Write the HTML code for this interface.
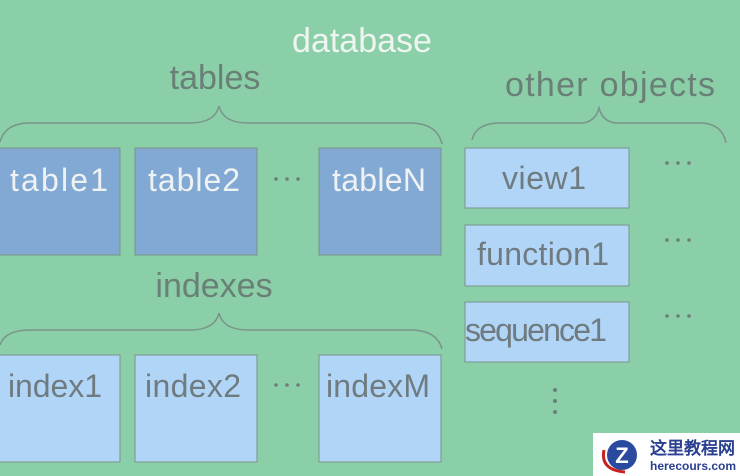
<!DOCTYPE html>
<html><head><meta charset="utf-8"><style>
html,body{margin:0;padding:0;width:740px;height:476px;overflow:hidden;background:#8bcfa9}
svg{display:block}
text{font-family:"Liberation Sans",sans-serif}
</style></head><body>
<svg width="740" height="476" viewBox="0 0 740 476" xmlns="http://www.w3.org/2000/svg">
<rect width="740" height="476" fill="#8bcfa9"/>
<text x="362" y="52" font-size="34" fill="#eef5f0" text-anchor="middle">database</text>
<text x="215" y="89" font-size="34" fill="#6a7f76" text-anchor="middle">tables</text>
<path d="M0,142 Q5,123 30,123 L190,123 Q215,123 219,106 Q223,123 248,123 L410,123 Q437,123 442,144" fill="none" stroke="#7a948a" stroke-width="1.5"/>
<g stroke="#7a948a" stroke-width="1">
<rect x="-1" y="148" width="121" height="107" fill="#82a9d3"/>
<rect x="135" y="148" width="122" height="107" fill="#82a9d3"/>
<rect x="319" y="148" width="122" height="107" fill="#82a9d3"/>
</g>
<g font-size="32" fill="#eef2f4">
<text x="10" y="191" textLength="98">table1</text>
<text x="148" y="191" textLength="92">table2</text>
<text x="332" y="191" textLength="94">tableN</text>
</g>
<g fill="#6a7f76"><circle cx="276" cy="179" r="1.8"/><circle cx="287" cy="179" r="1.8"/><circle cx="298" cy="179" r="1.8"/></g>
<text x="214" y="297" font-size="34" fill="#6a7f76" text-anchor="middle">indexes</text>
<path d="M0,345 Q5,330 30,330 L190,330 Q215,330 219,313 Q223,330 248,330 L410,330 Q437,330 442,349" fill="none" stroke="#7a948a" stroke-width="1.5"/>
<g stroke="#7a948a" stroke-width="1">
<rect x="-1" y="355" width="121" height="107" fill="#b0d5f7"/>
<rect x="135" y="355" width="122" height="107" fill="#b0d5f7"/>
<rect x="319" y="355" width="122" height="107" fill="#b0d5f7"/>
</g>
<g font-size="32" fill="#6f7b80">
<text x="8" y="397" textLength="94">index1</text>
<text x="145" y="397" textLength="96">index2</text>
<text x="326" y="397" textLength="104">indexM</text>
</g>
<g fill="#6a7f76"><circle cx="276" cy="385" r="1.8"/><circle cx="287" cy="385" r="1.8"/><circle cx="298" cy="385" r="1.8"/></g>
<text x="610" y="96" font-size="34" fill="#6a7f76" text-anchor="middle" textLength="210">other objects</text>
<path d="M472,140 Q476,123 500,123 L580,123 Q595,123 599,108 Q603,123 618,123 L700,123 Q722,123 726,143" fill="none" stroke="#7a948a" stroke-width="1.5"/>
<g stroke="#7a948a" stroke-width="1" fill="#b0d5f7">
<rect x="465" y="148" width="164" height="60"/>
<rect x="465" y="225" width="164" height="61"/>
<rect x="465" y="302" width="164" height="60"/>
</g>
<g font-size="32" fill="#6f7b80">
<text x="502" y="189" textLength="84">view1</text>
<text x="477" y="265" textLength="132">function1</text>
<text x="465" y="341" textLength="142">sequence1</text>
</g>
<g fill="#6a7f76">
<circle cx="667" cy="163" r="1.8"/><circle cx="678" cy="163" r="1.8"/><circle cx="689" cy="163" r="1.8"/>
<circle cx="667" cy="240" r="1.8"/><circle cx="678" cy="240" r="1.8"/><circle cx="689" cy="240" r="1.8"/>
<circle cx="667" cy="316" r="1.8"/><circle cx="678" cy="316" r="1.8"/><circle cx="689" cy="316" r="1.8"/>
<circle cx="555" cy="390" r="2"/><circle cx="555" cy="401" r="2"/><circle cx="555" cy="412" r="2"/></g>
<rect x="593" y="433" width="147" height="43" fill="#ffffff"/>
<circle cx="622" cy="455" r="15" fill="#2a4aa0"/>
<path d="M604,450 Q600,470 625,472" fill="none" stroke="#c8201e" stroke-width="3"/>
<text x="622" y="463" font-size="22" font-weight="bold" fill="#fff" text-anchor="middle">Z</text>
<text x="650" y="454" font-size="17" font-weight="bold" fill="#2a3f8f" font-family="Liberation Sans,'Noto Sans CJK SC',sans-serif">这里教程网</text>
<text x="650" y="470" font-size="12" font-weight="bold" fill="#2a3f8f" font-family="Liberation Serif,serif" textLength="86">herecours.com</text>
</svg>
</body></html>
